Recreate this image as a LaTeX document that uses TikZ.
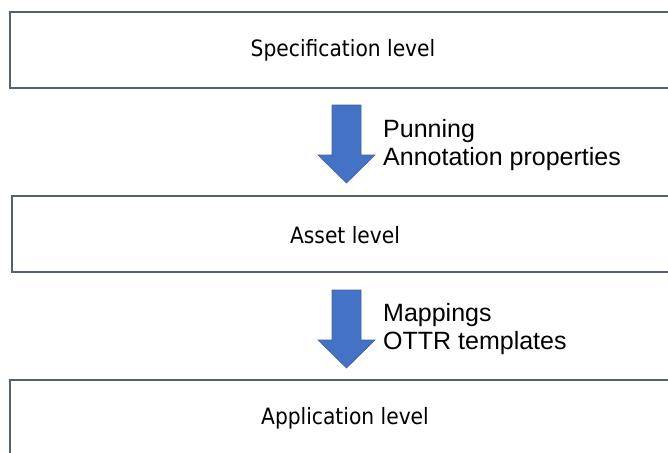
\documentclass[tikz,border=0pt]{standalone}
\usepackage{fontspec}
\setmainfont{Liberation Sans}
\newfontfamily\boxfont{DejaVu Sans Condensed}
\definecolor{frame}{RGB}{84,96,116}
\definecolor{arrowblue}{RGB}{68,114,196}
\definecolor{arrowedge}{RGB}{60,98,170}
\tikzset{
  levelbox/.style={draw=frame, line width=1.3pt, fill=white},
  levellabel/.style={inner sep=0pt, font=\boxfont\fontsize{22.5}{26}\selectfont},
  flowarrow/.style={fill=arrowblue, draw=arrowedge, line width=0.6pt},
  steplabel/.style={anchor=west, align=left, inner sep=0pt,
    font=\fontsize{25}{28}\selectfont}
}
\begin{document}
\begin{tikzpicture}[x=1pt,y=-1pt]
  \useasboundingbox (0,0) rectangle (668,452);
  \clip (0,0) rectangle (668,452);

  % three level boxes running off the right edge
  \draw[levelbox] (10,12) rectangle (700,88);
  \node[levellabel] (spec) at (343,50) {Specification level};
  \draw[levelbox] (12,196) rectangle (700,272);
  \node[levellabel] (asset) at (345,235) {Asset level};
  \draw[levelbox] (10,380) rectangle (700,480);
  \node[levellabel] (app) at (345,418) {Application level};

  % block arrows between levels
  \fill[flowarrow] (332,105) -- (361,105) -- (361,155) -- (375,155) -- (346.5,183)
    -- (318,155) -- (332,155) -- cycle;
  \fill[flowarrow] (332,290) -- (361,290) -- (361,340) -- (375,340) -- (346.5,368)
    -- (318,340) -- (332,340) -- cycle;

  \node[steplabel] (t1) at (383,145) {Punning\\Annotation properties};
  \node[steplabel] (t2) at (383,329) {Mappings\\OTTR templates};
\end{tikzpicture}
\end{document}
